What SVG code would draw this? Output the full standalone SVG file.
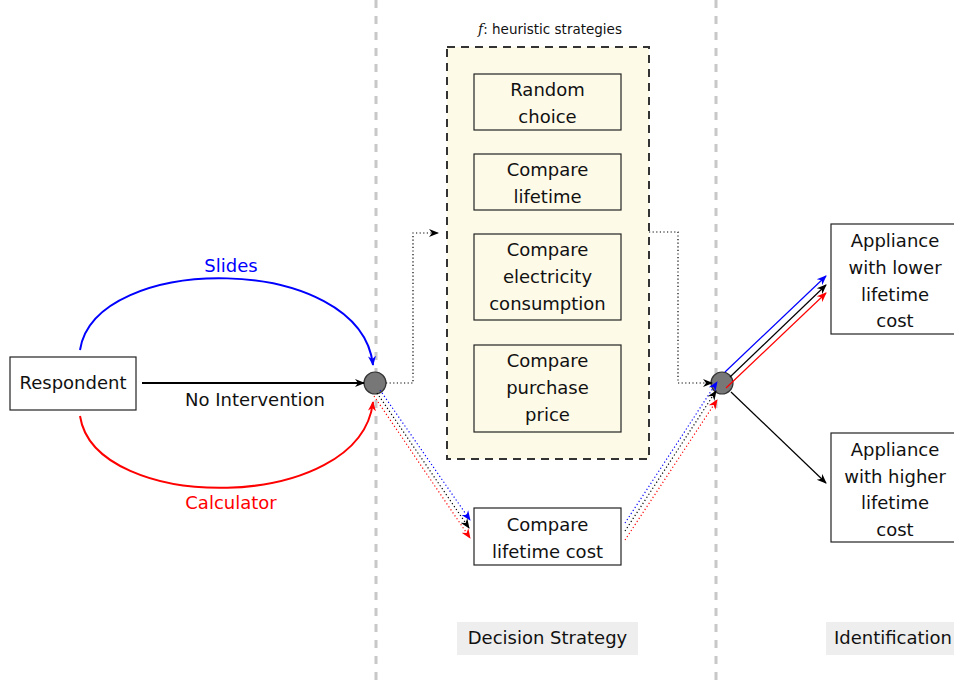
<svg xmlns="http://www.w3.org/2000/svg" width="954" height="687" viewBox="0 0 954 687">
<style>
text{font-family:"DejaVu Sans","Liberation Sans",sans-serif;font-size:18px;fill:#111;text-anchor:middle}
.box{fill:#fff;stroke:#222;stroke-width:1.2}
.ibox{fill:#fdfae8;stroke:#222;stroke-width:1.2}
.sep{stroke:#c8c8c8;stroke-width:3;stroke-dasharray:8 8}
.dot{fill:none;stroke-width:1.2;stroke-dasharray:1.2 2.4}
.hub{fill:#777;stroke:#333;stroke-width:1.2}
.lbl{fill:#eeeeee}
</style>
<defs>
<marker id="ak" viewBox="0 0 10 10" refX="9" refY="5" markerWidth="10" markerHeight="10" markerUnits="userSpaceOnUse" orient="auto"><path d="M0,1 L10,5 L0,9 L3,5 Z" fill="#000"/></marker>
<marker id="ab" viewBox="0 0 10 10" refX="9" refY="5" markerWidth="10" markerHeight="10" markerUnits="userSpaceOnUse" orient="auto"><path d="M0,1 L10,5 L0,9 L3,5 Z" fill="#00f"/></marker>
<marker id="ar" viewBox="0 0 10 10" refX="9" refY="5" markerWidth="10" markerHeight="10" markerUnits="userSpaceOnUse" orient="auto"><path d="M0,1 L10,5 L0,9 L3,5 Z" fill="#f00"/></marker>
</defs>
<rect width="954" height="687" fill="#fff"/>
<line class="sep" x1="376" y1="0" x2="376" y2="687"/>
<line class="sep" x1="716" y1="0" x2="716" y2="687"/>

<g id="heuristics">
<rect x="447" y="47" width="202" height="412" fill="#fdfae8" stroke="#333" stroke-width="2" stroke-dasharray="8 6"/>
<text x="550" y="34" style="font-size:13.5px"><tspan style="font-family:'DejaVu Serif','Liberation Serif',serif;font-style:italic;font-size:14px">f</tspan>: heuristic strategies</text>
</g>
<g id="random"><rect class="ibox" x="474" y="74" width="147" height="56"/><text x="547.5" y="96">Random</text><text x="547.5" y="123">choice</text></g>
<g id="lifetime"><rect class="ibox" x="474" y="154" width="147" height="56"/><text x="547.5" y="176">Compare</text><text x="547.5" y="203">lifetime</text></g>
<g id="electricity"><rect class="ibox" x="474" y="234" width="147" height="86"/><text x="547.5" y="256">Compare</text><text x="547.5" y="283">electricity</text><text x="547.5" y="310">consumption</text></g>
<g id="purchase"><rect class="ibox" x="474" y="345" width="147" height="87"/><text x="547.5" y="367">Compare</text><text x="547.5" y="394">purchase</text><text x="547.5" y="421">price</text></g>
<g id="lifetimecost"><rect class="box" x="474" y="508" width="147" height="57"/><text x="547.5" y="531">Compare</text><text x="547.5" y="558">lifetime cost</text></g>

<g id="respondent"><rect class="box" x="10" y="357" width="126" height="53"/><text x="73" y="389">Respondent</text></g>
<g id="lower"><rect class="box" x="831" y="224" width="124" height="110"/><text x="895" y="247">Appliance</text><text x="895" y="274">with lower</text><text x="895" y="301">lifetime</text><text x="895" y="327">cost</text></g>
<g id="higher"><rect class="box" x="831" y="433" width="124" height="109"/><text x="895" y="456">Appliance</text><text x="895" y="483">with higher</text><text x="895" y="509">lifetime</text><text x="895" y="536">cost</text></g>

<g id="hub1"><circle class="hub" cx="375" cy="383" r="11"/></g>
<g id="hub2"><circle class="hub" cx="722" cy="383" r="11"/></g>

<g id="connectors">
<path d="M80,350 C95,252 360,252 373,365" fill="none" stroke="#00f" stroke-width="2" marker-end="url(#ab)"/>
<path d="M80,416 C95,514 360,514 373,402" fill="none" stroke="#f00" stroke-width="2" marker-end="url(#ar)"/>
<line x1="142" y1="383" x2="364" y2="383" stroke="#000" stroke-width="2" marker-end="url(#ak)"/>
<text x="231" y="272" style="fill:#00f">Slides</text>
<text x="255" y="406">No Intervention</text>
<text x="231" y="509" style="fill:#f00">Calculator</text>

<path class="dot" d="M386,383 H413 V233 H438" stroke="#000" marker-end="url(#ak)"/>
<path class="dot" d="M649,232 H678 V383 H712" stroke="#000" marker-end="url(#ak)"/>

<line class="dot" x1="380" y1="390" x2="470" y2="520" stroke="#00f" marker-end="url(#ab)"/>
<line class="dot" x1="377" y1="393" x2="469" y2="528" stroke="#000" marker-end="url(#ak)"/>
<line class="dot" x1="374" y1="396" x2="470" y2="538" stroke="#f00" marker-end="url(#ar)"/>

<line class="dot" x1="625" y1="523" x2="717" y2="382" stroke="#00f" marker-end="url(#ab)"/>
<line class="dot" x1="625" y1="531" x2="716" y2="391" stroke="#000" marker-end="url(#ak)"/>
<line class="dot" x1="625" y1="540" x2="717" y2="400" stroke="#f00" marker-end="url(#ar)"/>

<line x1="725" y1="372" x2="826" y2="276" stroke="#00f" stroke-width="1.2" marker-end="url(#ab)"/>
<line x1="730" y1="377" x2="826" y2="285" stroke="#000" stroke-width="1.2" marker-end="url(#ak)"/>
<line x1="726" y1="388" x2="826" y2="293" stroke="#f00" stroke-width="1.2" marker-end="url(#ar)"/>
<line x1="731" y1="392" x2="826" y2="483" stroke="#000" stroke-width="1.2" marker-end="url(#ak)"/>
</g>

<g id="decision"><rect class="lbl" x="457" y="622" width="181" height="33"/><text x="547.5" y="644">Decision Strategy</text></g>
<g id="identification"><rect class="lbl" x="826" y="622" width="128" height="33"/><text x="834" y="644" style="text-anchor:start">Identification</text></g>
</svg>
